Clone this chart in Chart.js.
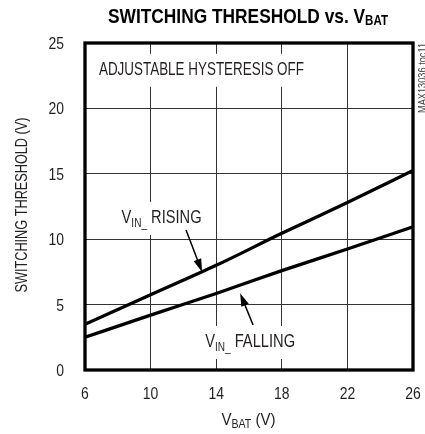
<!DOCTYPE html>
<html>
<head>
<meta charset="utf-8">
<script src="https://cdn.jsdelivr.net/npm/chart.js@4.4.1/dist/chart.umd.min.js"></script>
<style>
  html, body { margin: 0; padding: 0; background: #fff; }
  canvas { display: block; }
</style>
</head>
<body>
<canvas id="thresholdChart" width="425" height="434"></canvas>
<script>
// VBAT sweep (V) and the two switching thresholds (V)
const vbat = [6, 10, 14, 18, 22, 26];
const vinRising = [3.5, 5.75, 8.0, 10.45, 12.8, 15.25];
const vinFalling = [2.5, 4.2, 5.85, 7.6, 9.25, 10.95];

const xTickStep = 4;
const yTickStep = 5;

const FONT = '"Liberation Sans", Arial, sans-serif';
const SQUEEZE = 0.82; // narrow look of the original lettering
const INK = '#231f20';

// draws a run of text pieces (some subscripted), squeezed sideways
function drawRich(ctx, parts, x, y, align, weight, fitWidth) {
    weight = weight || 'normal';
    let total = 0;
    parts.forEach(p => {
        ctx.font = weight + ' ' + p.size + 'px ' + FONT;
        p.w = ctx.measureText(p.t).width;
        total += p.w;
    });
    const k = fitWidth ? fitWidth / total : SQUEEZE;
    const width = total * k;
    const left = align === 'center' ? x - width / 2 : align === 'right' ? x - width : x;
    ctx.save();
    ctx.translate(left, y);
    ctx.scale(k, 1);
    ctx.textAlign = 'left';
    ctx.textBaseline = 'alphabetic';
    let cx = 0;
    parts.forEach(p => {
        ctx.font = weight + ' ' + p.size + 'px ' + FONT;
        ctx.fillText(p.t, cx, p.dy || 0);
        cx += p.w;
    });
    ctx.restore();
    return { left: left, width: width };
}

function drawArrow(ctx, x1, y1, x2, y2) {
    const ang = Math.atan2(y2 - y1, x2 - x1);
    const len = 13, half = 4;
    ctx.strokeStyle = '#000';
    ctx.fillStyle = '#000';
    ctx.lineWidth = 1.5;
    ctx.beginPath();
    ctx.moveTo(x1, y1);
    ctx.lineTo(x2 - Math.cos(ang) * len * 0.8, y2 - Math.sin(ang) * len * 0.8);
    ctx.stroke();
    ctx.beginPath();
    ctx.moveTo(x2, y2);
    ctx.lineTo(x2 - Math.cos(ang) * len - Math.sin(ang) * half, y2 - Math.sin(ang) * len + Math.cos(ang) * half);
    ctx.lineTo(x2 - Math.cos(ang) * len + Math.sin(ang) * half, y2 - Math.sin(ang) * len - Math.cos(ang) * half);
    ctx.closePath();
    ctx.fill();
}

// annotations, placed in data units (x = VBAT, y = threshold; y is the text baseline)
const notes = {
    hyst: { x: 6.85, y: 22.57, w: 205 },
    rising: { x: 10.67, y: 11.25, w: 80, tail: [12.16, 10.71], tip: [13.14, 7.5] },
    falling: { x: 16.07, y: 1.76, w: 90, tail: [16.25, 3.44], tip: [15.46, 5.87] },
};

function noteBox(ctx, left, base, w) {
    ctx.fillStyle = '#fff';
    ctx.fillRect(left - 5, base - 21, w + 10, 33);
    ctx.fillStyle = INK;
}

const decorPlugin = {
    id: 'decor',
    beforeDatasetsDraw(chart) {
        const ctx = chart.ctx;
        const xs = chart.scales.x, ys = chart.scales.y;
        ctx.save();

        let n = notes.hyst;
        let px = xs.getPixelForValue(n.x), py = ys.getPixelForValue(n.y);
        noteBox(ctx, px, py, n.w);
        drawRich(ctx, [{ t: 'ADJUSTABLE HYSTERESIS OFF', size: 18 }], px, py, 'left', 'normal', n.w);

        n = notes.rising;
        px = xs.getPixelForValue(n.x); py = ys.getPixelForValue(n.y);
        noteBox(ctx, px - n.w / 2, py, n.w);
        drawRich(ctx, [{ t: 'V', size: 19 }, { t: 'IN_', size: 13, dy: 4 }, { t: ' RISING', size: 19 }],
            px, py, 'center', 'normal', n.w);

        n = notes.falling;
        px = xs.getPixelForValue(n.x); py = ys.getPixelForValue(n.y);
        noteBox(ctx, px - n.w / 2, py, n.w);
        drawRich(ctx, [{ t: 'V', size: 19 }, { t: 'IN_', size: 13, dy: 4 }, { t: ' FALLING', size: 19 }],
            px, py, 'center', 'normal', n.w);
        ctx.restore();
    },
    afterDatasetsDraw(chart) {
        const ctx = chart.ctx;
        const xs = chart.scales.x, ys = chart.scales.y;
        const a = chart.chartArea;
        ctx.save();
        [notes.rising, notes.falling].forEach(n => {
            drawArrow(ctx,
                xs.getPixelForValue(n.tail[0]), ys.getPixelForValue(n.tail[1]),
                xs.getPixelForValue(n.tip[0]), ys.getPixelForValue(n.tip[1]));
        });

        // heavy frame
        ctx.strokeStyle = '#000';
        ctx.lineWidth = 3.3;
        ctx.strokeRect(a.left, a.top, a.right - a.left, a.bottom - a.top);

        // tick labels
        ctx.fillStyle = INK;
        xs.ticks.forEach(t => {
            drawRich(ctx, [{ t: String(t.value), size: 17 }], xs.getPixelForValue(t.value), a.bottom + 29, 'center');
        });
        ys.ticks.forEach(t => {
            drawRich(ctx, [{ t: String(t.value), size: 17 }], a.left - 21, ys.getPixelForValue(t.value) + 6, 'right');
        });

        // title
        ctx.fillStyle = '#000';
        drawRich(ctx, [{ t: 'SWITCHING THRESHOLD vs. V', size: 21 }, { t: 'BAT', size: 14, dy: 2 }],
            248, 23, 'center', 'bold', 280);

        // axis titles
        ctx.fillStyle = INK;
        drawRich(ctx, [{ t: 'V', size: 17 }, { t: 'BAT', size: 12, dy: 3 }, { t: ' (V)', size: 17 }],
            248.5, 425, 'center', 'normal', 54);
        ctx.save();
        ctx.translate(27, 205);
        ctx.rotate(-Math.PI / 2);
        drawRich(ctx, [{ t: 'SWITCHING THRESHOLD (V)', size: 16 }], 0, 0, 'center', 'normal', 175);
        ctx.restore();

        // figure code
        ctx.save();
        ctx.translate(426, 78);
        ctx.rotate(-Math.PI / 2);
        ctx.fillStyle = '#444';
        drawRich(ctx, [{ t: 'MAX13036 toc11', size: 10 }], 0, 0, 'center', 'normal', 70);
        ctx.restore();
        ctx.restore();
    },
};

const ctx = document.getElementById('thresholdChart').getContext('2d');

const lineStyle = {
    borderColor: '#000',
    borderWidth: 3.3,
    pointRadius: 0,
    fill: false,
    cubicInterpolationMode: 'monotone',
};

new Chart(ctx, {
    type: 'line',
    data: {
        datasets: [
            Object.assign({ label: 'VIN_ RISING', data: vbat.map((v, i) => ({ x: v, y: vinRising[i] })) }, lineStyle),
            Object.assign({ label: 'VIN_ FALLING', data: vbat.map((v, i) => ({ x: v, y: vinFalling[i] })) }, lineStyle),
        ],
    },
    options: {
        responsive: false,
        animation: false,
        layout: { padding: { top: 43, right: 12, left: 0, bottom: 0 } },
        plugins: {
            legend: { display: false },
            tooltip: { enabled: false },
        },
        scales: {
            x: {
                type: 'linear',
                min: 6,
                max: 26,
                ticks: { stepSize: xTickStep, display: false },
                grid: { color: '#333', lineWidth: 1, drawTicks: false },
                border: { display: false },
                afterFit(scale) {
                    scale.height = 64;
                    scale.paddingLeft = 0;
                    scale.paddingRight = 0;
                },
            },
            y: {
                min: 0,
                max: 25,
                ticks: { stepSize: yTickStep, display: false },
                grid: { color: '#333', lineWidth: 1, drawTicks: false },
                border: { display: false },
                afterFit(scale) {
                    scale.width = 85;
                    scale.paddingTop = 0;
                    scale.paddingBottom = 0;
                },
            },
        },
    },
    plugins: [decorPlugin],
});
</script>
</body>
</html>
